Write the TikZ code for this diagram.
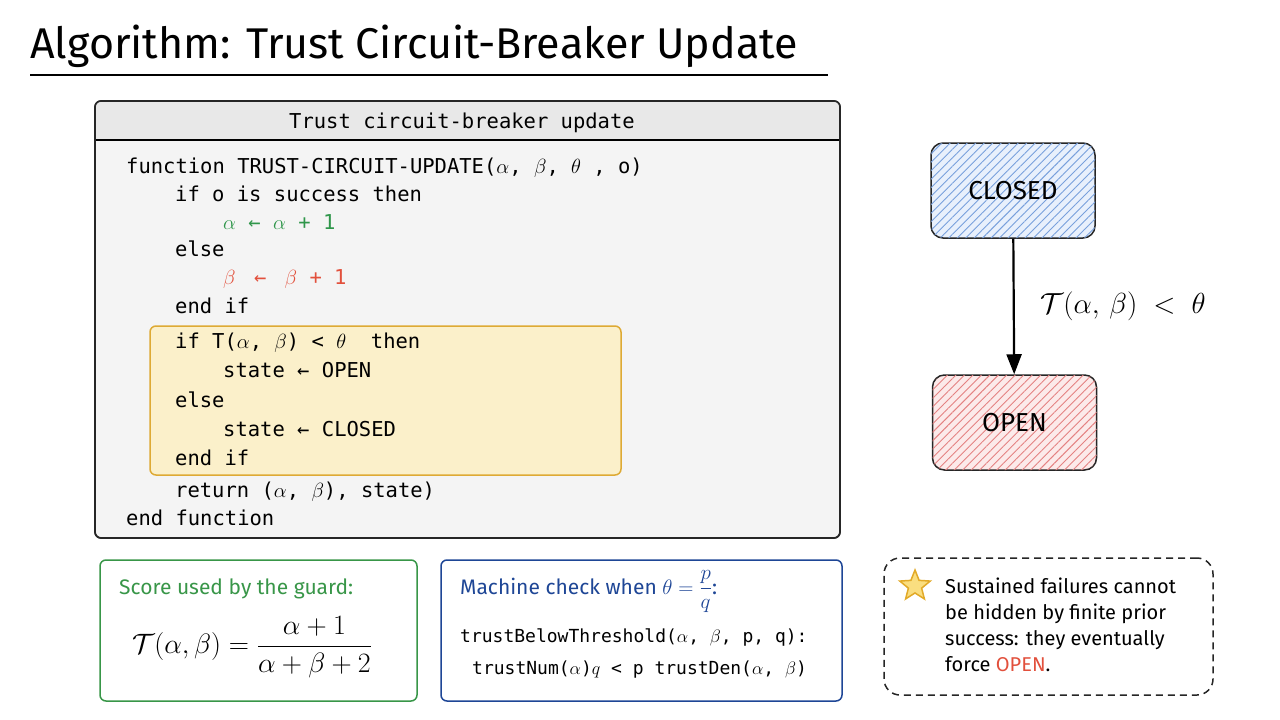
\RequirePackage{fix-cm}
\documentclass[tikz,border=0pt]{standalone}
\usepackage{amsmath}
\usepackage{fontspec}
\setmainfont{Fira Sans}
\newfontfamily\codefont{DejaVu Sans Mono}
\usetikzlibrary{shapes.geometric, arrows.meta, positioning, patterns.meta}

\definecolor{codegreen}{RGB}{47,150,74}
\definecolor{codered}{RGB}{226,80,60}
\definecolor{hlfill}{RGB}{251,240,202}
\definecolor{hldraw}{RGB}{222,170,52}
\definecolor{boxgray}{RGB}{244,244,244}
\definecolor{headgray}{RGB}{232,232,232}
\definecolor{guardgreen}{RGB}{56,150,72}
\definecolor{checkblue}{RGB}{30,70,150}
\definecolor{starfill}{RGB}{250,222,128}
\definecolor{stardraw}{RGB}{226,170,40}
\definecolor{closedfill}{RGB}{232,240,252}
\definecolor{closedhatch}{RGB}{120,160,220}
\definecolor{openfill}{RGB}{252,234,234}
\definecolor{openhatch}{RGB}{228,130,130}

\begin{document}
\begin{tikzpicture}[
    x=1pt, y=-1pt,
    algobox/.style = {
        rectangle,
        rounded corners=6pt,
        draw=black!85,
        line width=1.6pt,
        inner sep=0pt
    },
    code/.style = {anchor=base west, inner sep=0pt, font=\codefont\fontsize{20.5pt}{24pt}\selectfont},
    smallcode/.style = {code, font=\codefont\fontsize{18pt}{22pt}\selectfont},
    state/.style = {
        rectangle,
        rounded corners=12pt,
        draw=black!85,
        line width=1.5pt,
        minimum width=164pt,
        minimum height=95pt,
        font=\fontsize{26pt}{28pt}\selectfont
    },
    note/.style = {rectangle, rounded corners=6pt, line width=1.5pt, fill=white, inner sep=0pt},
    hand/.style = {anchor=base west, inner sep=0pt, font=\fontsize{21pt}{26pt}\selectfont},
    arrow/.style = {line width=2.2pt, -{Triangle[length=20pt, width=15pt]}}
]
    \useasboundingbox (0,0) rectangle (1280,720);
    \fill[white] (0,0) rectangle (1280,720);

    % === TITLE ===
    \node[anchor=base west, inner sep=0pt, font=\fontsize{43pt}{46pt}\selectfont] (title) at (30,58) {Algorithm: Trust Circuit-Breaker Update};
    \draw[line width=2pt] (30,75) -- (828,75);

    % === ALGORITHM BOX ===
    \node[algobox, fill=boxgray, minimum width=745pt, minimum height=437pt] (algo) at (467.5,319.5) {};
    \begin{scope}
        \clip[rounded corners=6pt] (95,101) rectangle (840,538);
        \fill[headgray] (95,101) rectangle (840,140);
    \end{scope}
    \draw[line width=1.6pt] (95,140) -- (840,140);
    \draw[line width=1.6pt, draw=black!85, rounded corners=6pt] (95,101) rectangle (840,538);
    \node[code, anchor=base] (head) at (462,128) {Trust circuit-breaker update};

    % highlighted guard
    \node[algobox, fill=hlfill, draw=hldraw, line width=1.5pt, minimum width=471pt, minimum height=149pt] (guard) at (385.5,400.5) {};

    % code lines
    \node[code] (l1) at (126,173) {function TRUST-CIRCUIT-UPDATE($\alpha$, $\beta$, $\theta$\ , o)};
    \node[code] (l2) at (175,201) {if o is success then};
    \node[code, text=codegreen] (l3) at (223,229) {$\alpha$ ← $\alpha$ + 1};
    \node[code] (l4) at (175,256) {else};
    \node[code, text=codered] (l5) at (223,284) {$\beta$\hspace{6pt} ← \hspace{6pt}$\beta$ + 1};
    \node[code] (l6) at (175,313) {end if};
    \node[code] (l7) at (175,348) {if T($\alpha$, $\beta$) < $\theta$\ \ then};
    \node[code] (l8) at (223,377) {state ← OPEN};
    \node[code] (l9) at (175,407) {else};
    \node[code] (l10) at (223,436) {state ← CLOSED};
    \node[code] (l11) at (175,465) {end if};
    \node[code] (l12) at (175,497) {return ($\alpha$, $\beta$), state)};
    \node[code] (l13) at (126,525) {end function};

    % === STATE MACHINE ===
    \node[state, fill=closedfill, postaction={pattern={Lines[angle=45, distance=6pt, line width=0.9pt]}, pattern color=closedhatch}] (closed) at (1013,190.5) {CLOSED};
    \node[state, fill=openfill, postaction={pattern={Lines[angle=45, distance=6pt, line width=0.9pt]}, pattern color=openhatch}] (open) at (1014.5,422.5) {OPEN};
    \draw[arrow] (closed) -- (open)
        node[midway, right=22pt, font=\fontsize{29pt}{32pt}\selectfont] (guardlabel) {$\mathcal{T}(\alpha,\, \beta)\; <\; \theta$};

    % === NOTE BOXES ===
    \node[note, draw=guardgreen, minimum width=317pt, minimum height=141pt] (score) at (258.5,630.5) {};
    \node[hand, text=guardgreen] (scoretitle) at (119,594) {Score used by the guard:};
    \node[font=\fontsize{28pt}{32pt}\selectfont] (formula) at (252,647) {$\mathcal{T}(\alpha,\beta) = \dfrac{\alpha+1}{\alpha+\beta+2}$};

    \node[note, draw=checkblue, minimum width=401pt, minimum height=141pt] (check) at (641.5,630.5) {};
    \node[hand, text=checkblue] (checktitle) at (460,594) {Machine check when $\theta = \dfrac{p}{q}$:};
    \node[smallcode] (c1) at (460,642) {trustBelowThreshold($\alpha$, $\beta$, p, q):};
    \node[smallcode] (c2) at (472,674) {trustNum($\alpha$)$q$ < p trustDen($\alpha$, $\beta$)};

    \node[note, draw=black!85, dashed, dash pattern=on 7pt off 5pt, rounded corners=16pt, minimum width=329pt, minimum height=137pt] (insight) at (1048.5,626.5) {};
    \node[star, star points=5, star point ratio=2.3, fill=starfill, draw=stardraw, line width=1.5pt, minimum size=32pt, inner sep=0pt] (star) at (915,586) {};
    \node[hand, font=\fontsize{20pt}{26pt}\selectfont] (n1) at (945,593) {Sustained failures cannot};
    \node[hand, font=\fontsize{20pt}{26pt}\selectfont] (n2) at (945,619) {be hidden by finite prior};
    \node[hand, font=\fontsize{20pt}{26pt}\selectfont] (n3) at (945,645) {success: they eventually};
    \node[hand, font=\fontsize{20pt}{26pt}\selectfont] (n4) at (945,671) {force \textcolor{codered}{OPEN}.};
\end{tikzpicture}
\end{document}
